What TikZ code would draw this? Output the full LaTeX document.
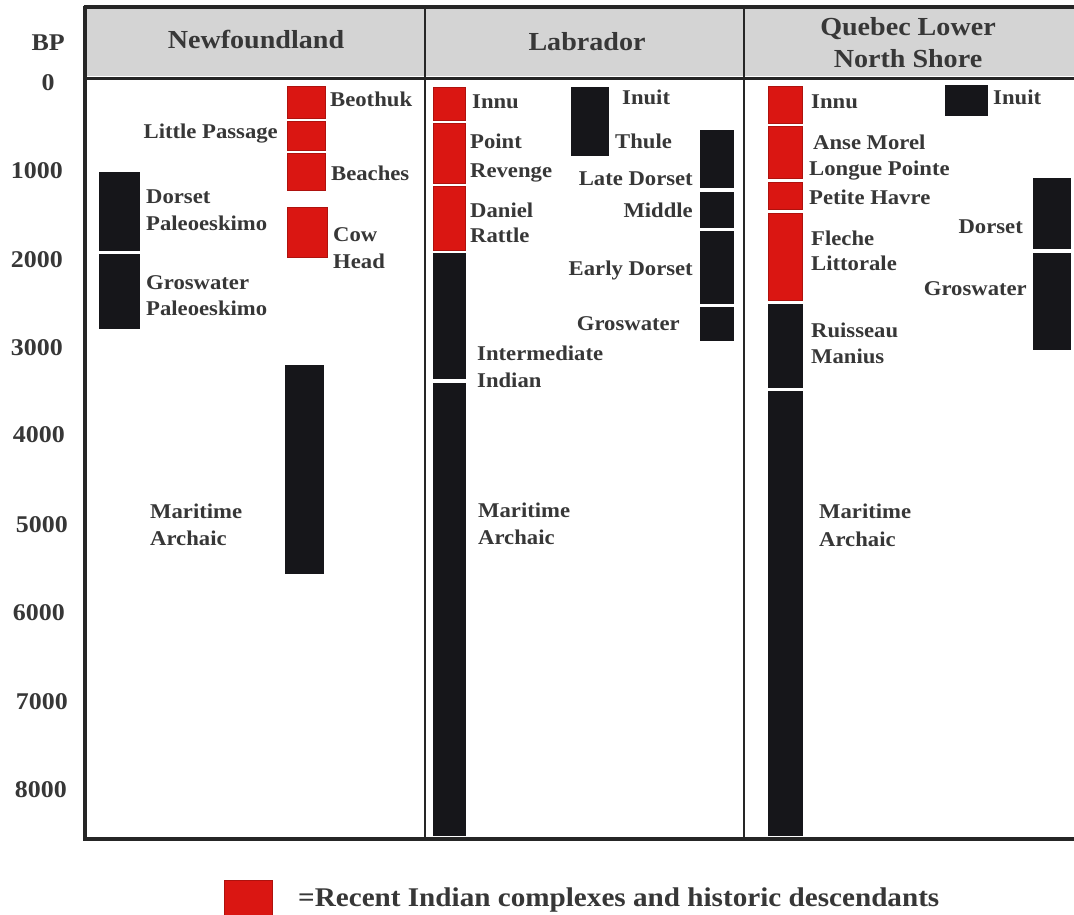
\documentclass[tikz,border=0pt]{standalone}
\usepackage{fontspec}
\setmainfont{Liberation Serif}[FakeStretch=1.08]
\definecolor{txt}{RGB}{55,55,55}
\definecolor{bred}{RGB}{218,22,18}
\definecolor{bblk}{RGB}{22,22,26}
\definecolor{hgray}{RGB}{212,212,212}
\begin{document}
\begin{tikzpicture}[x=1pt,y=-1pt,
  lab/.style={inner sep=0,anchor=base west,font=\fontsize{21}{21}\selectfont\bfseries,text=txt},
  labr/.style={lab,anchor=base east},
  num/.style={inner sep=0,anchor=base east,font=\fontsize{24}{24}\selectfont\bfseries,text=txt},
  head/.style={inner sep=0,anchor=base,font=\fontsize{26}{26}\selectfont\bfseries,text=txt},
  legtext/.style={inner sep=0,anchor=base west,font=\fontsize{27}{27}\selectfont\bfseries,text=txt},
  redbar/.style={fill=bred,draw=bred!80!black,line width=0.6},
  blkbar/.style={fill=bblk,draw=bblk,line width=0.6},
  frameline/.style={draw=black!85,line width=3.5}]
\useasboundingbox (0,0) rectangle (1074,914);
\fill[white] (0,0) rectangle (1074,914);
% header
\fill[hgray] (87,9) rectangle (1074,76);
\draw[frameline] (83.5,7) -- (1074,7);
\draw[frameline,line width=3] (85,78) -- (1074,78);
\draw[frameline] (85,5.5) -- (85,840.5);
\draw[frameline,line width=2.5] (425,7) -- (425,839);
\draw[frameline,line width=2] (744,7) -- (744,839);
\draw[frameline,line width=4] (83,839) -- (1074,839);
% headers
\node[head] (hnl) at (256,48) {Newfoundland};
\node[head] (hlab) at (587,50) {Labrador};
\node[head] (hq1) at (908,35) {Quebec Lower};
\node[head] (hq2) at (908,67) {North Shore};
% axis
\node[num] (bp) at (65,50) {BP};
\node[num,anchor=base] (t0) at (48,90) {0};
\node[num] (t1) at (63,178) {1000};
\node[num] (t2) at (63,267) {2000};
\node[num] (t3) at (63,355) {3000};
\node[num] (t4) at (65,442) {4000};
\node[num] (t5) at (68,532) {5000};
\node[num] (t6) at (65,620) {6000};
\node[num] (t7) at (68,709) {7000};
\node[num] (t8) at (67,797) {8000};
% Newfoundland bars
\draw[redbar] (287,86) rectangle (325,118);
\draw[redbar] (287,121) rectangle (325,150);
\draw[redbar] (287,153) rectangle (325,190);
\draw[redbar] (287,207) rectangle (327,257);
\draw[blkbar] (99,172) rectangle (139,250);
\draw[blkbar] (99,254) rectangle (139,328);
\draw[blkbar] (285,365) rectangle (323,573);
% Newfoundland labels
\node[lab] (beo) at (330,106) {Beothuk};
\node[labr] (lp) at (278,138) {Little Passage};
\node[lab] (bea) at (331,180) {Beaches};
\node[lab] (cow) at (333,241) {Cow};
\node[lab] (head) at (333,268) {Head};
\node[lab] (dor1) at (146,203) {Dorset};
\node[lab] (dor2) at (146,230) {Paleoeskimo};
\node[lab] (gro1) at (146,289) {Groswater};
\node[lab] (gro2) at (146,315) {Paleoeskimo};
\node[lab] (ma1) at (150,518) {Maritime};
\node[lab] (ma2) at (150,545) {Archaic};
% Labrador bars
\draw[redbar] (433,87) rectangle (465,120);
\draw[redbar] (433,123) rectangle (465,183);
\draw[redbar] (433,186) rectangle (465,250);
\draw[blkbar] (433,253) rectangle (465,378);
\draw[blkbar] (433,383) rectangle (465,835);
\draw[blkbar] (571,87) rectangle (608,155);
\draw[blkbar] (700,130) rectangle (733,187);
\draw[blkbar] (700,192) rectangle (733,227);
\draw[blkbar] (700,231) rectangle (733,303);
\draw[blkbar] (700,307) rectangle (733,340);
% Labrador labels
\node[lab] (linnu) at (472,108) {Innu};
\node[lab] (lpr1) at (470,148) {Point};
\node[lab] (lpr2) at (470,177) {Revenge};
\node[lab] (ldr1) at (470,217) {Daniel};
\node[lab] (ldr2) at (470,242) {Rattle};
\node[lab] (linuit) at (622,104) {Inuit};
\node[lab] (lthule) at (615,148) {Thule};
\node[labr] (lld) at (693,185) {Late Dorset};
\node[labr] (lmid) at (693,217) {Middle};
\node[labr] (led) at (693,275) {Early Dorset};
\node[labr] (lgro) at (680,330) {Groswater};
\node[lab] (lii1) at (477,360) {Intermediate};
\node[lab] (lii2) at (477,387) {Indian};
\node[lab] (lma1) at (478,517) {Maritime};
\node[lab] (lma2) at (478,544) {Archaic};
% Quebec bars
\draw[redbar] (768,86) rectangle (802,123);
\draw[redbar] (768,126) rectangle (802,178);
\draw[redbar] (768,182) rectangle (802,209);
\draw[redbar] (768,213) rectangle (802,300);
\draw[blkbar] (768,304) rectangle (802,387);
\draw[blkbar] (768,391) rectangle (802,835);
\draw[blkbar] (945,85) rectangle (987,115);
\draw[blkbar] (1033,178) rectangle (1070,248);
\draw[blkbar] (1033,253) rectangle (1070,349);
% Quebec labels
\node[lab] (qinnu) at (811,108) {Innu};
\node[lab] (qam) at (813,149) {Anse Morel};
\node[lab] (qlp) at (809,175) {Longue Pointe};
\node[lab] (qph) at (809,204) {Petite Havre};
\node[lab] (qfl1) at (811,245) {Fleche};
\node[lab] (qfl2) at (811,270) {Littorale};
\node[lab] (qrm1) at (811,337) {Ruisseau};
\node[lab] (qrm2) at (811,363) {Manius};
\node[lab] (qinuit) at (993,104) {Inuit};
\node[labr] (qdor) at (1023,233) {Dorset};
\node[labr] (qgro) at (1027,295) {Groswater};
\node[lab] (qma1) at (819,518) {Maritime};
\node[lab] (qma2) at (819,546) {Archaic};
% legend
\draw[redbar] (224,880) rectangle (272,916);
\node[legtext] (leg) at (298,906) {=Recent Indian complexes and historic descendants};
\end{tikzpicture}
\end{document}
